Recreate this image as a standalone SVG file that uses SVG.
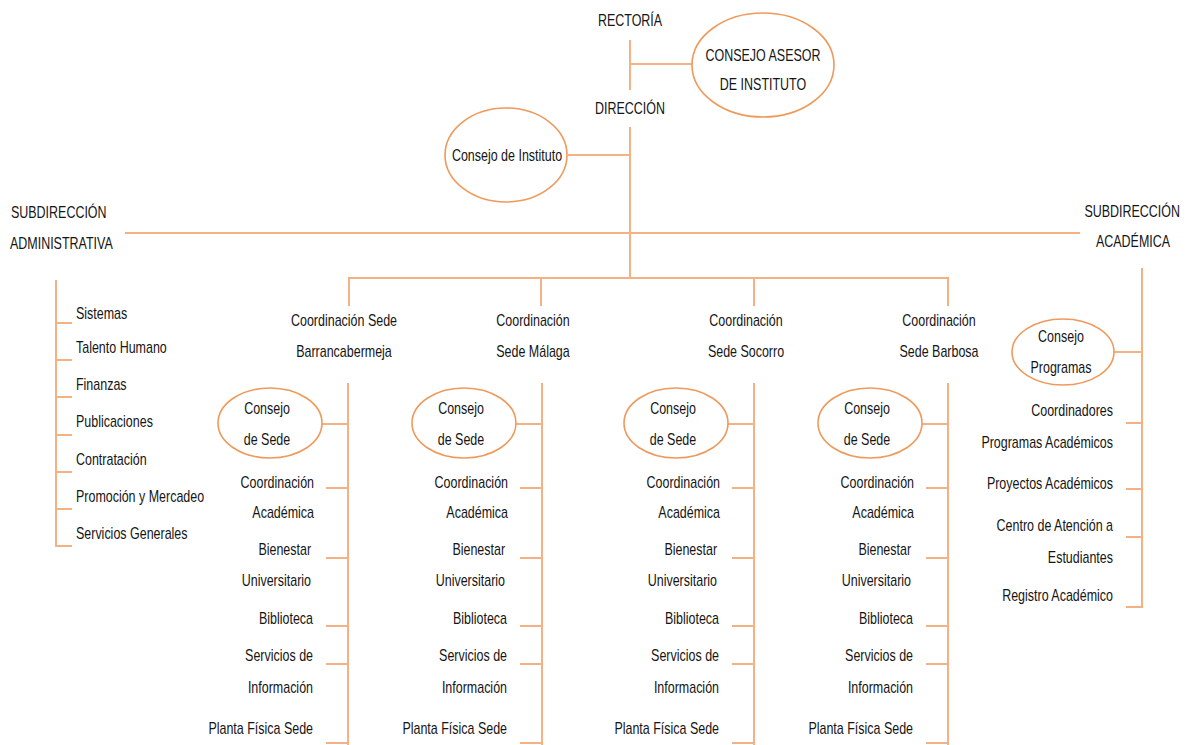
<svg xmlns="http://www.w3.org/2000/svg" width="1193" height="745" viewBox="0 0 1193 745">
<style>
text{font-family:"Liberation Sans",Arial,sans-serif;font-size:16px;fill:#151515;dominant-baseline:central;transform-box:fill-box;transform:scaleX(.78);transform-origin:left center}
.c{text-anchor:middle;transform-origin:center}
.e{text-anchor:end;transform-origin:right center}
.ln{stroke:#F4B183;stroke-width:2;fill:none}
.el{fill:#fff;stroke:#EE9A5C;stroke-width:1.6}
</style>
<rect width="1193" height="745" fill="#fff"/>
<g id="connectors" class="ln">
<path d="M630 40V90M630 127V278M630 64H692M568 155H630M125 233H1080"/>
<path d="M349 306V278H948V306M541 278V306M754 278V306"/>
<path d="M56 280V547M56 323H72M56 360H72M56 397H72M56 435H72M56 472H72M56 509H72M56 546H72"/>
<path d="M1142 268V608M1114 352H1142M1126 423H1142M1126 489H1142M1126 537H1142M1126 607H1142"/>
</g>
<defs>
<g id="col">
<path class="ln" d="M348 383V745M322 424H348M326 488H348M326 558H348M326 626H348M326 664H348M326 743H348"/>
<ellipse class="el" cx="270" cy="423" rx="52" ry="35"/>
<text class="c" x="267" y="408">Consejo</text>
<text class="c" x="267" y="439">de Sede</text>
<text class="e" x="314" y="482">Coordinación</text>
<text class="e" x="314" y="512">Académica</text>
<text class="e" x="311" y="549">Bienestar</text>
<text class="e" x="311" y="580">Universitario</text>
<text class="e" x="313" y="618">Biblioteca</text>
<text class="e" x="313" y="655">Servicios de</text>
<text class="e" x="313" y="687">Información</text>
<text class="e" x="313" y="728">Planta Física Sede</text>
</g>
</defs>
<g id="rectoria"><text class="c" x="630" y="20">RECTORÍA</text></g>
<g id="consejo-asesor">
<ellipse class="el" cx="763" cy="65" rx="71" ry="52"/>
<text class="c" x="763" y="55">CONSEJO ASESOR</text>
<text class="c" x="763" y="84">DE INSTITUTO</text>
</g>
<g id="direccion"><text class="c" x="630" y="108">DIRECCIÓN</text></g>
<g id="consejo-instituto">
<ellipse class="el" cx="506" cy="155" rx="61" ry="47"/>
<text class="c" x="507" y="155">Consejo de Instituto</text>
</g>
<g id="sub-admin">
<text x="11" y="212">SUBDIRECCIÓN</text>
<text x="10" y="243">ADMINISTRATIVA</text>
</g>
<g id="sub-acad">
<text class="e" x="1180" y="211">SUBDIRECCIÓN</text>
<text class="c" x="1133" y="241">ACADÉMICA</text>
</g>
<g id="admin-list">
<text x="76" y="313">Sistemas</text>
<text x="76" y="347">Talento Humano</text>
<text x="76" y="384">Finanzas</text>
<text x="76" y="421">Publicaciones</text>
<text x="76" y="459">Contratación</text>
<text x="76" y="496">Promoción y Mercadeo</text>
<text x="76" y="533">Servicios Generales</text>
</g>
<g id="sede-barranca">
<text class="c" x="344" y="320">Coordinación Sede</text>
<text class="c" x="344" y="351">Barrancabermeja</text>
<use href="#col"/>
</g>
<g id="sede-malaga">
<text class="c" x="533" y="320">Coordinación</text>
<text class="c" x="533" y="351">Sede Málaga</text>
<use href="#col" transform="translate(194,0)"/>
</g>
<g id="sede-socorro">
<text class="c" x="746" y="320">Coordinación</text>
<text class="c" x="746" y="351">Sede Socorro</text>
<use href="#col" transform="translate(406,0)"/>
</g>
<g id="sede-barbosa">
<text class="c" x="939" y="320">Coordinación</text>
<text class="c" x="939" y="351">Sede Barbosa</text>
<use href="#col" transform="translate(600,0)"/>
</g>
<g id="acad-list">
<ellipse class="el" cx="1063" cy="352" rx="51" ry="33"/>
<text class="c" x="1061" y="336">Consejo</text>
<text class="c" x="1061" y="367">Programas</text>
<text class="e" x="1113" y="410">Coordinadores</text>
<text class="e" x="1113" y="442">Programas Académicos</text>
<text class="e" x="1113" y="483">Proyectos Académicos</text>
<text class="e" x="1113" y="525">Centro de Atención a</text>
<text class="e" x="1113" y="557">Estudiantes</text>
<text class="e" x="1113" y="595">Registro Académico</text>
</g>
</svg>
